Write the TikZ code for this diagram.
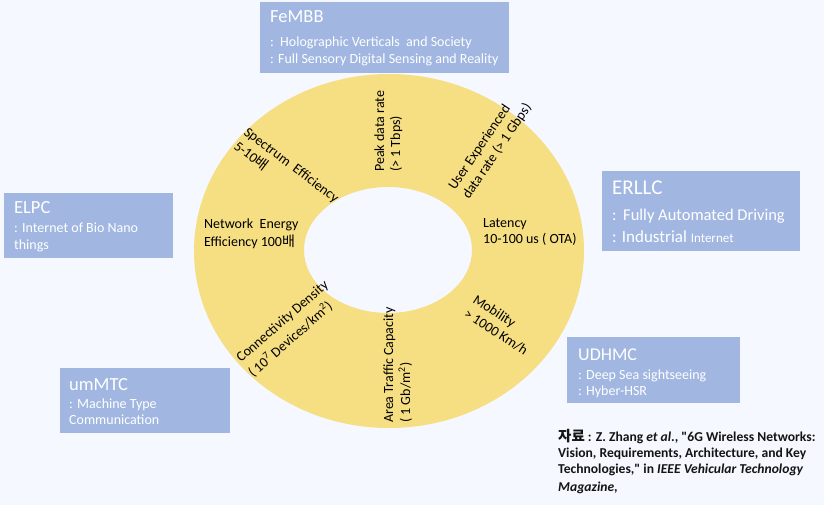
\documentclass[tikz,border=0pt]{standalone}
\usepackage{fontspec}
\setmainfont{Carlito}
\newfontfamily\citefont{Carlito}
\newfontfamily\kr{Noto Sans CJK KR}
\definecolor{bgcol}{HTML}{F5F8FE}
\definecolor{ringyellow}{HTML}{F6DE82}
\definecolor{boxblue}{HTML}{A1B7E1}
\definecolor{citecol}{HTML}{141414}
\begin{document}
\begin{tikzpicture}[x=1pt,y=-1pt,
  box/.style={fill=boxblue, draw=none, anchor=north west, inner sep=0pt},
  ttl/.style={text=white, anchor=base west, inner sep=0pt, font=\fontsize{18.5}{22}\selectfont},
  sub/.style={text=white, anchor=base west, inner sep=0pt, font=\fontsize{14}{16}\selectfont},
  lab/.style={text=black, anchor=base west, inner sep=0pt, font=\fontsize{14}{17}\selectfont},
  cite/.style={text=citecol, anchor=base west, inner sep=0pt, font=\citefont\bfseries\fontsize{13.6}{16}\selectfont}]
\useasboundingbox (0,0) rectangle (824,505);
\fill[bgcol] (0,0) rectangle (824,505);
% ring
\fill[ringyellow, even odd rule] (389,251) ellipse [x radius=195pt, y radius=177pt]
  (388,250) ellipse [x radius=84pt, y radius=63pt];
% boxes
\node[box, minimum width=249pt, minimum height=71pt] (fembb) at (260,2) {};
\node[ttl] (fembbT) at (270,23) {FeMBB};
\node[sub] (fembb1) at (270,47) {:\hspace{0.45em}Holographic Verticals\ \ and Society};
\node[sub] (fembb2) at (270,64) {: Full Sensory Digital Sensing and Reality};

\node[box, minimum width=169pt, minimum height=65pt] (elpc) at (4,193) {};
\node[ttl] (elpcT) at (14,214) {ELPC};
\node[sub] (elpc1) at (14,233) {: Internet of Bio Nano};
\node[sub] (elpc2) at (14,249) {things};

\node[box, minimum width=198pt, minimum height=80pt] (erllc) at (602,171) {};
\node[ttl, font=\fontsize{21}{25}\selectfont] (erllcT) at (612,194) {ERLLC};
\node[sub, font=\fontsize{16.5}{20}\selectfont] (erllc1) at (612,220) {:\hspace{0.4em}Fully Automated Driving};
\node[sub, font=\fontsize{17}{20}\selectfont] (erllc2) at (612,242) {: Industrial {\fontsize{13}{15}\selectfont Internet}};

\node[box, minimum width=173pt, minimum height=66pt] (udhmc) at (567,337) {};
\node[ttl, font=\fontsize{18}{22}\selectfont] (udhmcT) at (578,360) {UDHMC};
\node[sub] (udhmc1) at (578,379) {: Deep Sea sightseeing};
\node[sub] (udhmc2) at (578,395) {: Hyber-HSR};

\node[box, minimum width=170pt, minimum height=65pt] (ummtc) at (60,368) {};
\node[ttl] (ummtcT) at (69,390) {umMTC};
\node[sub] (ummtc1) at (69,408) {: Machine Type};
\node[sub] (ummtc2) at (69,424) {Communication};

% ring labels
\node[lab, rotate=90] (peak1) at (384,172) {Peak data rate};
\node[lab, rotate=90] (peak2) at (400,172) {(> 1 Tbps)};

\node[lab, rotate=-37] (spec1) at (243,134) {Spectrum\ \ Efficiency};
\node[lab, rotate=-37] (spec2) at (233,148) {5-10{\kr 배}};

\node[lab, rotate=56] (user1) at (455,191) {User Experienced};
\node[lab, rotate=56] (user2) at (469,200) {data rate (> 1 Gbps)};

\node[lab] (lat1) at (483,227) {Latency};
\node[lab] (lat2) at (483,243) {10-100 us ( OTA)};

\node[lab, rotate=-33] (mob1) at (472,302) {Mobility};
\node[lab, rotate=-33] (mob2) at (463,316) {> 1000 Km/h};

\node[lab, rotate=90] (area1) at (393,423) {Area Traffic Capacity};
\node[lab, rotate=90] (area2) at (410,423) {( 1 Gb/m\textsuperscript{2})};

\node[lab, rotate=41] (conn1) at (241,363) {Connectivity Density};
\node[lab, rotate=41] (conn2) at (253,378) {( 10\textsuperscript{7} Devices/km\textsuperscript{2})};

\node[lab] (net1) at (204,228) {Network\ \ Energy};
\node[lab] (net2) at (204,246) {Efficiency 100{\kr 배}};

% citation
\node[cite] (cite1) at (558,441) {{\kr\fontsize{14.5}{16}\selectfont 자료} : Z. Zhang \textit{et al.}, "6G Wireless Networks:};
\node[cite] (cite2) at (558,457) {Vision, Requirements, Architecture, and Key};
\node[cite] (cite3) at (558,473) {Technologies," in \textit{IEEE Vehicular Technology}};
\node[cite] (cite4) at (558,491) {\textit{Magazine},};
\end{tikzpicture}
\end{document}
